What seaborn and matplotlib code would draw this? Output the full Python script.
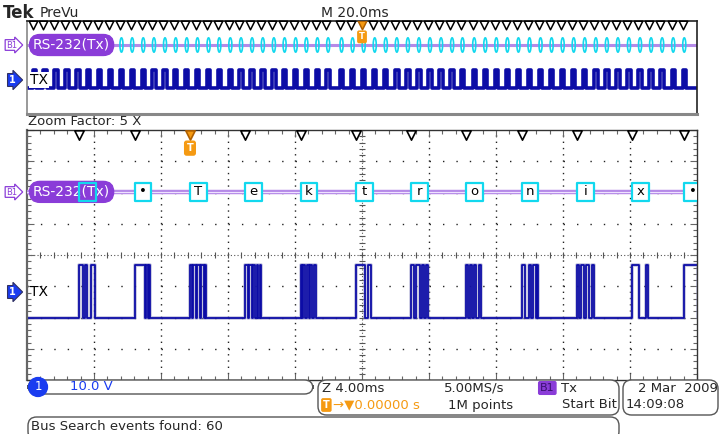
import numpy as np
import pandas as pd
import matplotlib
matplotlib.use("Agg")
import matplotlib.pyplot as plt
import matplotlib.transforms as mtransforms
import seaborn as sns
from matplotlib.patches import Rectangle, Ellipse, FancyBboxPatch
from matplotlib.ticker import FixedLocator

# bus search events (start bit times, ms, trigger = 0)
events_before = [-98.3, -95.1, -91.8, -88.6, -85.3, -82.1, -78.8, -75.6, -72.3, -69.1,
                 -65.8, -62.6, -59.3, -56.1, -52.8, -49.6, -46.3, -43.1, -39.8, -36.6,
                 -33.3, -30.1, -26.8, -23.6, -20.3, -17.1, -13.8, -10.6]
events_after = [-6.6, -3.3, 0.0, 3.3, 6.6, 9.9, 13.2, 16.5, 19.8, 23.1, 26.4, 29.5,
                33.0, 36.3, 39.6, 42.9, 46.2, 49.5, 52.8, 56.1, 59.4, 62.7, 66.0, 69.3,
                72.6, 75.9, 79.2, 82.5, 85.8, 89.1, 92.4, 95.7]
events_ms = events_before + events_after

# decoded bytes inside the zoom window (first one hidden under the bus label)
zoom_chars = ["", "•", "T", "e", "k", "t", "r", "o", "n", "i", "x", "•"]
# high (space) parts of every frame, ms after the start bit
frame_highs = [
    [(0, 0.24), (0.33, 0.48), (0.72, 0.90)],
    [(0, 0.63), (0.69, 0.81), (0.87, 0.93)],
    [(0, 0.12), (0.21, 0.33), (0.42, 0.57), (0.66, 0.81), (0.87, 0.96)],
    [(0, 0.15), (0.21, 0.39), (0.45, 0.57), (0.69, 0.75), (0.87, 0.93)],
    [(0, 0.06), (0.12, 0.27), (0.36, 0.48), (0.57, 0.66), (0.78, 0.93)],
    [(0, 0.54), (0.72, 0.90)],
    [(0, 0.18), (0.30, 0.54), (0.66, 0.78), (0.90, 1.01)],
    [(0, 0.12), (0.24, 0.36), (0.48, 0.60), (0.78, 0.90)],
    [(0, 0.18), (0.42, 0.54), (0.66, 0.84), (0.90, 0.96)],
    [(0, 0.12), (0.24, 0.42), (0.54, 0.72), (0.90, 1.01)],
    [(0, 0.42), (0.84, 0.96)],
    [(0, 0.84)],
]
tx_low_v = -8.5
tx_high_v = 8.6
volts_per_div = 10.0
ch1_offset_div = -1.18
zoom_center_ms = 10.27
zoom_ms_per_div = 4.0
frame_ms = 1.0

PURPLE = "#8a3cd8"
BUSLINE = "#b58ae8"
CYAN = "#12d8ee"
TRACE = "#0c0ca6"
ORANGE = "#f59a12"

sns.set_theme(style="white")
plt.rcParams["font.family"] = ["DejaVu Sans"]

W, H = 720, 434
fig = plt.figure(figsize=(7.2, 4.34), dpi=100)
fig.patch.set_facecolor("white")


def fx(x):
    return x / W


def fy(y):
    return 1 - y / H


def steps(starts, highs, lo, hi, x0, x1):
    xs, ys = [x0], [lo]
    for s, segs in zip(starts, highs):
        for a, b in segs:
            xs += [s + a, s + b]
            ys += [hi, lo]
    xs.append(max(x1, xs[-1]))
    ys.append(lo)
    return pd.DataFrame({"t": xs, "v": ys})


def pill(a, y):
    tr = mtransforms.blended_transform_factory(a.transAxes, a.transData)
    a.text(0.009, y, "RS-232(Tx)", color="white", fontsize=10, va="center", transform=tr,
           zorder=4.5, clip_on=False,
           bbox=dict(boxstyle="round,pad=0.25,rounding_size=0.75", fc=PURPLE, ec=PURPLE))


# ---------------- overview (PreVu) ----------------
ax0 = fig.add_axes([fx(27), fy(114), fx(697) - fx(27), (114 - 21) / H])
ax0.set_xlim(-100, 100)
ax0.set_ylim(-33, 55)
df0 = steps(events_ms, [[(0, frame_ms)]] * len(events_ms), tx_low_v, tx_high_v, -100, 100)
sns.lineplot(data=df0, x="t", y="v", ax=ax0, drawstyle="steps-post", estimator=None,
             sort=False, color=TRACE, lw=2.6)
bus_y0 = 32.3
ax0.axhline(bus_y0, color=BUSLINE, lw=2.2, zorder=1)
for e in events_ms:
    ax0.add_patch(Ellipse((e + frame_ms / 2, bus_y0), frame_ms * 0.9, 13.5,
                          fc="none", ec=CYAN, lw=1.2, zorder=2))
pill(ax0, bus_y0)
ev = np.array(events_ms)
ax0.scatter(ev[ev != 0], np.full((ev != 0).sum(), 51.5), marker="v", s=38,
            fc="white", ec="black", lw=1.1, zorder=5, clip_on=False)
ax0.scatter([0], [51.5], marker="v", s=38, fc=ORANGE, ec="#b06000", lw=1.1, zorder=6)
ax0.text(0, 40, "T", color="white", fontsize=6, fontweight="bold", ha="center", va="center",
         bbox=dict(boxstyle="round,pad=0.15", fc=ORANGE, ec=ORANGE), zorder=7)
ax0.set_xticks([])
ax0.set_yticks([])
ax0.set_xlabel("")
ax0.set_ylabel("")
for side, col, lw in [("top", "#222", 1.2), ("right", "#222", 1.2),
                      ("left", "#888", 1.2), ("bottom", "#888", 2.2)]:
    ax0.spines[side].set_color(col)
    ax0.spines[side].set_linewidth(lw)
    ax0.spines[side].set_visible(True)

# ---------------- zoomed main window ----------------
ax = fig.add_axes([fx(27), fy(380), fx(697) - fx(27), (380 - 130) / H])
x0 = zoom_center_ms - 5 * zoom_ms_per_div
x1 = zoom_center_ms + 5 * zoom_ms_per_div
ax.set_xlim(x0, x1)
ax.set_ylim(-4, 4)

# graticule
for k in range(1, 10):
    xv = x0 + k * zoom_ms_per_div
    if k == 5:
        ax.axvline(xv, color="#555", lw=0.8, ls=(0, (1, 2)), zorder=0)
    else:
        ax.axvline(xv, color="#222", lw=1.0, ls=(0, (1, 3.5)), zorder=0)
for k in range(-3, 4):
    if k == 0:
        ax.axhline(0, color="#555", lw=0.8, ls=(0, (1, 2)), zorder=0)
    else:
        ax.axhline(k, color="#222", lw=1.0, ls=(0, (1, 8.65)), zorder=0)
minor_x = x0 + np.arange(0, 50.5) * zoom_ms_per_div / 5
minor_y = np.arange(-20, 20.5) / 5
ax.plot(minor_x, np.zeros_like(minor_x), ls="none", marker="|", ms=5, color="#555", mew=0.8, zorder=0)
ax.plot(np.full_like(minor_y, zoom_center_ms), minor_y, ls="none", marker="_", ms=5,
        color="#555", mew=0.8, zorder=0)
ax.xaxis.set_major_locator(FixedLocator(x0 + np.arange(11) * zoom_ms_per_div))
ax.xaxis.set_minor_locator(FixedLocator(minor_x))
ax.yaxis.set_major_locator(FixedLocator(np.arange(-4, 5)))
ax.yaxis.set_minor_locator(FixedLocator(minor_y))
ax.tick_params(which="both", direction="in", bottom=True, top=True, left=True, right=True,
               labelbottom=False, labelleft=False, color="#666")
ax.tick_params(which="major", length=5, width=0.8)
ax.tick_params(which="minor", length=3, width=0.8)

zoom_events = [e for e in events_ms if x0 < e < x1]
df1 = steps(zoom_events, frame_highs, tx_low_v, tx_high_v, x0, x1)
df1["div"] = ch1_offset_div + df1["v"] / volts_per_div
sns.lineplot(data=df1, x="t", y="div", ax=ax, drawstyle="steps-post", estimator=None,
             sort=False, color="#9090c4", lw=2.6, alpha=0.55)
sns.lineplot(data=df1, x="t", y="div", ax=ax, drawstyle="steps-post", estimator=None,
             sort=False, color=TRACE, lw=1.3)

bus_y1 = 2.02
ax.axhline(bus_y1, color=BUSLINE, lw=3.2, zorder=3)
ax.axhline(bus_y1, color="#efe2ff", lw=0.8, zorder=3)
for e, ch in zip(zoom_events, zoom_chars):
    ax.add_patch(Rectangle((e, bus_y1 - 0.29), frame_ms, 0.58, fc="white", ec="none",
                           zorder=4))
    ax.add_patch(Rectangle((e, bus_y1 - 0.29), frame_ms, 0.58, fc="none", ec=CYAN,
                           lw=1.6, zorder=5, joinstyle="round"))
    if ch:
        ax.text(e + frame_ms / 2, bus_y1, ch, fontsize=9.5, ha="center", va="center",
                color="black", zorder=4.2)
pill(ax, bus_y1)
ze = np.array(zoom_events)
ax.scatter(ze[ze != 0], np.full((ze != 0).sum(), 3.84), marker="v", s=45,
           fc="white", ec="black", lw=1.2, zorder=5, clip_on=False)
ax.scatter([0], [3.84], marker="v", s=45, fc=ORANGE, ec="#b06000", lw=1.2, zorder=6)
ax.text(0, 3.42, "T", color="white", fontsize=7, fontweight="bold", ha="center", va="center",
        bbox=dict(boxstyle="round,pad=0.2", fc=ORANGE, ec=ORANGE), zorder=7)
ax.set_xlabel("")
ax.set_ylabel("")
for side in ["top", "right", "bottom", "left"]:
    ax.spines[side].set_visible(True)
    ax.spines[side].set_color("#333")
    ax.spines[side].set_linewidth(1.0)
ax.spines["left"].set_color("#666")
ax.spines["left"].set_linewidth(1.6)

# ---------------- channel / bus markers ----------------
for ybus, ytx, tx_bg in [(45, 80, "white"), (192, 292, "none")]:
    fig.text(fx(6), fy(ybus), "B1", color=PURPLE, fontsize=6, va="center",
             bbox=dict(boxstyle="rarrow,pad=0.1", fc="white", ec=PURPLE, lw=0.9))
    fig.text(fx(9), fy(ytx), "1", color="white", fontsize=7, fontweight="bold", va="center",
             bbox=dict(boxstyle="rarrow,pad=0.15", fc="#1a3cf0", ec="#303060", lw=0.8))
    fig.text(fx(30), fy(ytx), "TX", color="black", fontsize=10, va="center",
             bbox=dict(boxstyle="square,pad=0.1", fc=tx_bg, ec="none"))

# ---------------- header ----------------
fig.text(fx(3), fy(13), "Tek", fontsize=12, fontweight="bold", va="center")
fig.text(fx(40), fy(13), "PreVu", fontsize=10, va="center")
fig.text(fx(321), fy(13), "M 20.0ms", fontsize=10, va="center")
fig.text(fx(28), fy(121), "Zoom Factor: 5 X", fontsize=9.5, va="center")


# ---------------- status boxes ----------------
def box(xa, ya, xb, yb):
    fig.patches.append(FancyBboxPatch((fx(xa), fy(yb)), fx(xb) - fx(xa), (yb - ya) / H,
                                      boxstyle="round,pad=0,rounding_size=0.012",
                                      mutation_aspect=W / H, transform=fig.transFigure,
                                      fc="white", ec="#555", lw=1.0))


box(28, 380, 313, 394)
box(318, 380, 619, 415)
box(623, 380, 718, 415)
box(28, 417, 619, 440)
fig.text(fx(38), fy(387), "1", color="white", fontsize=8.5, ha="center", va="center",
         bbox=dict(boxstyle="circle,pad=0.25", fc="#1a3cf0", ec="#1a3cf0"))
fig.text(fx(70), fy(387), "10.0 V", color="#1a3cf0", fontsize=9.5, va="center")
fig.text(fx(322), fy(388), "Z 4.00ms", fontsize=9.5, va="center")
fig.text(fx(444), fy(388), "5.00MS/s", fontsize=9.5, va="center")
fig.text(fx(540), fy(388), "B1", color="#3a1070", fontsize=8, va="center",
         bbox=dict(boxstyle="round,pad=0.12", fc=PURPLE, ec=PURPLE))
fig.text(fx(561), fy(388), "Tx", fontsize=9.5, va="center")
fig.text(fx(323), fy(405), "T", color="white", fontsize=7, fontweight="bold", va="center",
         bbox=dict(boxstyle="round,pad=0.12", fc=ORANGE, ec=ORANGE))
fig.text(fx(333), fy(405), "→▼0.00000 s", color=ORANGE, fontsize=9.5, va="center")
fig.text(fx(448), fy(405), "1M points", fontsize=9.5, va="center")
fig.text(fx(617), fy(405), "Start Bit", fontsize=9.5, va="center", ha="right")
fig.text(fx(638), fy(388), "2 Mar  2009", fontsize=9.5, va="center")
fig.text(fx(626), fy(405), "14:09:08", fontsize=9.5, va="center")
fig.text(fx(31), fy(426), "Bus Search events found: 60", fontsize=9.5, va="center")

fig.savefig("out.png", dpi=100, facecolor="white")
